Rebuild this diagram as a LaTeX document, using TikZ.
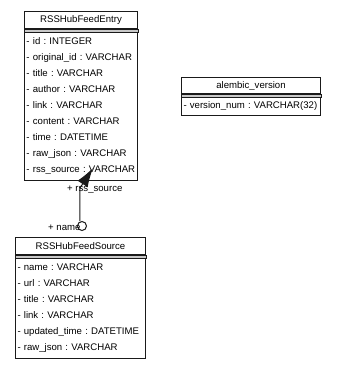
\documentclass[tikz,border=0pt]{standalone}
\usepackage{fontspec}
\setmainfont{Liberation Sans}
\usepackage{tikz}
\usetikzlibrary{arrows.meta,positioning}
\definecolor{TableInk}{HTML}{1A1A1A}
\definecolor{TableGrey}{HTML}{C8C8C8}
\newcommand{\umlfont}{\fontsize{9.6}{16}\selectfont\frenchspacing}
\tikzset{
  >={Latex[length=19pt,width=12pt]},
  tablehead/.style={draw=TableInk,line width=1pt,minimum height=17pt,
    inner sep=0pt,font=\umlfont},
  tablebody/.style={draw=TableInk,line width=1pt,align=left,
    inner xsep=2pt,inner ysep=5.5pt,font=\umlfont},
  divider/.style={draw=TableInk,line width=0.8pt,fill=TableGrey},
  assoc/.style={->,line width=1pt,draw=TableInk},
  rolelabel/.style={font=\umlfont,inner sep=0pt,anchor=west}
}

\begin{document}
\begin{tikzpicture}[x=1pt,y=-1pt]
        \useasboundingbox (0,0) rectangle (337,368);
        % entry table
        \node[tablehead,minimum width=113pt,anchor=north west] (entryhead) at (24,11) {RSSHubFeedEntry};
        \node[tablebody,text width=109pt,below=3pt of entryhead] (entrybody)
          {- id : INTEGER\\- original\_id : VARCHAR\\- title : VARCHAR\\- author : VARCHAR\\- link : VARCHAR\\
           - content : VARCHAR\\- time : DATETIME\\- raw\_json : VARCHAR\\- rss\_source : VARCHAR};
        \draw[divider] (entryhead.south west) rectangle (entrybody.north east);
        % source table
        \node[tablehead,minimum width=130pt,anchor=north west] (sourcehead) at (15,237) {RSSHubFeedSource};
        \node[tablebody,text width=126pt,below=3pt of sourcehead] (sourcebody)
          {- name : VARCHAR\\- url : VARCHAR\\- title : VARCHAR\\- link : VARCHAR\\
           - updated\_time : DATETIME\\- raw\_json : VARCHAR};
        \draw[divider] (sourcehead.south west) rectangle (sourcebody.north east);
        % migration table
        \node[tablehead,minimum width=139pt,minimum height=16pt,anchor=north west] (alembichead) at (181,77) {alembic\_version};
        \node[tablebody,text width=135pt,inner ysep=4.5pt,below=3pt of alembichead] (alembicbody)
          {- version\_num : VARCHAR(32)};
        \draw[divider] (alembichead.south west) rectangle (alembicbody.north east);
        % foreign key
        \node[circle,draw=TableInk,line width=1pt,fill=white,minimum size=9pt,inner sep=0pt] (srcend) at (82,226) {};
        \coordinate (fkbend) at (80,188);
        \coordinate (fktip) at (93,168);
        \draw[assoc] (fkbend |- srcend.north) -- (fkbend) -- (fktip);
        \node[rolelabel] (fklabel) at (67,190) {+ rss\_source};
        \node[rolelabel] (pklabel) at (48,228) {+ name};
      \end{tikzpicture}
\end{document}
